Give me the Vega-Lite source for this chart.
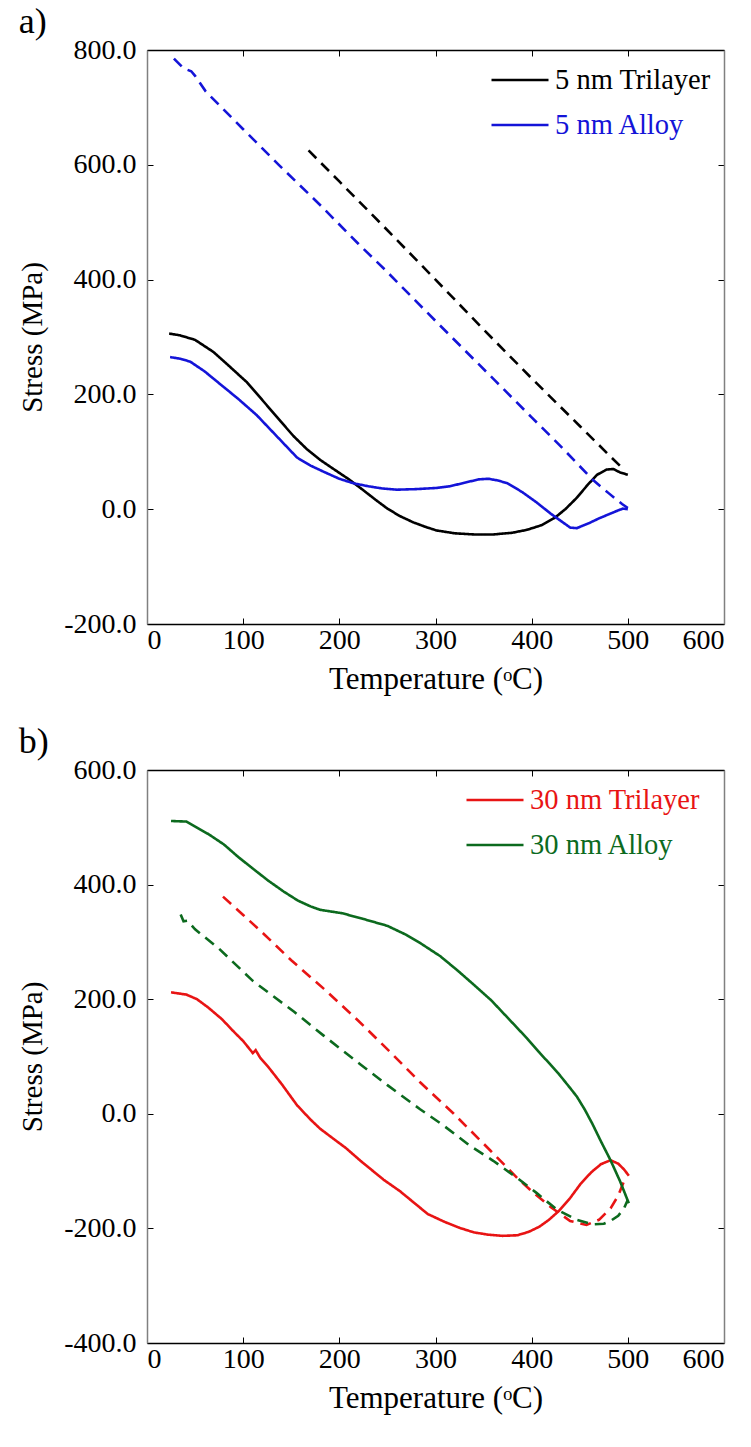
{
  "$schema": "https://vega.github.io/schema/vega-lite/v6.json",
  "background": "white",
  "padding": {"left": 18, "top": 4, "right": 8, "bottom": 5},
  "spacing": 30,
  "resolve": {"scale": {"color": "independent"}, "legend": {"color": "independent"}},
  "config": {
    "font": "Liberation Serif",
    "view": {"stroke": null},
    "axis": {"grid": false, "labelFont": "Liberation Serif", "titleFont": "Liberation Serif", "labelFontSize": 28, "titleFontSize": 29, "titleFontWeight": "normal", "labelColor": "black", "titleColor": "black", "tickColor": "black", "tickSize": -6, "tickWidth": 1, "domainWidth": 1.5},
    "axisX": {"domainColor": "black", "labelPadding": 8, "titlePadding": 10, "titleFontSize": 31},
    "axisY": {"domainColor": "#808080", "labelPadding": 17, "titlePadding": 16},
    "legend": {"orient": "none", "symbolType": "stroke", "symbolSize": 3249, "symbolStrokeWidth": 2.6, "labelFont": "Liberation Serif", "labelFontSize": 28.5, "labelOffset": 5, "rowPadding": 0, "labelLimit": 400, "padding": 0},
    "title": {"font": "Liberation Serif", "fontSize": 36, "fontWeight": "normal", "anchor": "start", "frame": "bounds", "color": "black", "offset": -5}
  },
  "datasets": {
    "a": [
      {"T": 23, "S": 306, "series": "5 nm Trilayer", "phase": "heating"},
      {"T": 34, "S": 303, "series": "5 nm Trilayer", "phase": "heating"},
      {"T": 50, "S": 295, "series": "5 nm Trilayer", "phase": "heating"},
      {"T": 69, "S": 274, "series": "5 nm Trilayer", "phase": "heating"},
      {"T": 85, "S": 250, "series": "5 nm Trilayer", "phase": "heating"},
      {"T": 104, "S": 221, "series": "5 nm Trilayer", "phase": "heating"},
      {"T": 120, "S": 190, "series": "5 nm Trilayer", "phase": "heating"},
      {"T": 139, "S": 153, "series": "5 nm Trilayer", "phase": "heating"},
      {"T": 152, "S": 128, "series": "5 nm Trilayer", "phase": "heating"},
      {"T": 166, "S": 105, "series": "5 nm Trilayer", "phase": "heating"},
      {"T": 180, "S": 86, "series": "5 nm Trilayer", "phase": "heating"},
      {"T": 194, "S": 70, "series": "5 nm Trilayer", "phase": "heating"},
      {"T": 210, "S": 52, "series": "5 nm Trilayer", "phase": "heating"},
      {"T": 225, "S": 33, "series": "5 nm Trilayer", "phase": "heating"},
      {"T": 238, "S": 16, "series": "5 nm Trilayer", "phase": "heating"},
      {"T": 250, "S": 1, "series": "5 nm Trilayer", "phase": "heating"},
      {"T": 263, "S": -12, "series": "5 nm Trilayer", "phase": "heating"},
      {"T": 277, "S": -23, "series": "5 nm Trilayer", "phase": "heating"},
      {"T": 290, "S": -31, "series": "5 nm Trilayer", "phase": "heating"},
      {"T": 301, "S": -37, "series": "5 nm Trilayer", "phase": "heating"},
      {"T": 320, "S": -42, "series": "5 nm Trilayer", "phase": "heating"},
      {"T": 340, "S": -44, "series": "5 nm Trilayer", "phase": "heating"},
      {"T": 360, "S": -44, "series": "5 nm Trilayer", "phase": "heating"},
      {"T": 380, "S": -41, "series": "5 nm Trilayer", "phase": "heating"},
      {"T": 395, "S": -36, "series": "5 nm Trilayer", "phase": "heating"},
      {"T": 410, "S": -28, "series": "5 nm Trilayer", "phase": "heating"},
      {"T": 424, "S": -15, "series": "5 nm Trilayer", "phase": "heating"},
      {"T": 435, "S": 0, "series": "5 nm Trilayer", "phase": "heating"},
      {"T": 447, "S": 20, "series": "5 nm Trilayer", "phase": "heating"},
      {"T": 458, "S": 42, "series": "5 nm Trilayer", "phase": "heating"},
      {"T": 468, "S": 60, "series": "5 nm Trilayer", "phase": "heating"},
      {"T": 478, "S": 69, "series": "5 nm Trilayer", "phase": "heating"},
      {"T": 485, "S": 70, "series": "5 nm Trilayer", "phase": "heating"},
      {"T": 492, "S": 64, "series": "5 nm Trilayer", "phase": "heating"},
      {"T": 500, "S": 60, "series": "5 nm Trilayer", "phase": "heating"},
      {"T": 168, "S": 625, "series": "5 nm Trilayer", "phase": "cooling"},
      {"T": 200, "S": 571, "series": "5 nm Trilayer", "phase": "cooling"},
      {"T": 250, "S": 486, "series": "5 nm Trilayer", "phase": "cooling"},
      {"T": 300, "S": 400, "series": "5 nm Trilayer", "phase": "cooling"},
      {"T": 350, "S": 313, "series": "5 nm Trilayer", "phase": "cooling"},
      {"T": 400, "S": 228, "series": "5 nm Trilayer", "phase": "cooling"},
      {"T": 450, "S": 145, "series": "5 nm Trilayer", "phase": "cooling"},
      {"T": 480, "S": 95, "series": "5 nm Trilayer", "phase": "cooling"},
      {"T": 494, "S": 72, "series": "5 nm Trilayer", "phase": "cooling"},
      {"T": 24, "S": 265, "series": "5 nm Alloy", "phase": "heating"},
      {"T": 35, "S": 262, "series": "5 nm Alloy", "phase": "heating"},
      {"T": 45, "S": 257, "series": "5 nm Alloy", "phase": "heating"},
      {"T": 60, "S": 240, "series": "5 nm Alloy", "phase": "heating"},
      {"T": 76, "S": 218, "series": "5 nm Alloy", "phase": "heating"},
      {"T": 95, "S": 192, "series": "5 nm Alloy", "phase": "heating"},
      {"T": 114, "S": 164, "series": "5 nm Alloy", "phase": "heating"},
      {"T": 135, "S": 127, "series": "5 nm Alloy", "phase": "heating"},
      {"T": 156, "S": 90, "series": "5 nm Alloy", "phase": "heating"},
      {"T": 170, "S": 76, "series": "5 nm Alloy", "phase": "heating"},
      {"T": 184, "S": 65, "series": "5 nm Alloy", "phase": "heating"},
      {"T": 200, "S": 53, "series": "5 nm Alloy", "phase": "heating"},
      {"T": 215, "S": 45, "series": "5 nm Alloy", "phase": "heating"},
      {"T": 230, "S": 40, "series": "5 nm Alloy", "phase": "heating"},
      {"T": 245, "S": 36, "series": "5 nm Alloy", "phase": "heating"},
      {"T": 260, "S": 34, "series": "5 nm Alloy", "phase": "heating"},
      {"T": 280, "S": 35, "series": "5 nm Alloy", "phase": "heating"},
      {"T": 301, "S": 37, "series": "5 nm Alloy", "phase": "heating"},
      {"T": 315, "S": 40, "series": "5 nm Alloy", "phase": "heating"},
      {"T": 330, "S": 46, "series": "5 nm Alloy", "phase": "heating"},
      {"T": 345, "S": 52, "series": "5 nm Alloy", "phase": "heating"},
      {"T": 355, "S": 53, "series": "5 nm Alloy", "phase": "heating"},
      {"T": 365, "S": 50, "series": "5 nm Alloy", "phase": "heating"},
      {"T": 375, "S": 45, "series": "5 nm Alloy", "phase": "heating"},
      {"T": 390, "S": 30, "series": "5 nm Alloy", "phase": "heating"},
      {"T": 405, "S": 12, "series": "5 nm Alloy", "phase": "heating"},
      {"T": 420, "S": -8, "series": "5 nm Alloy", "phase": "heating"},
      {"T": 430, "S": -20, "series": "5 nm Alloy", "phase": "heating"},
      {"T": 440, "S": -32, "series": "5 nm Alloy", "phase": "heating"},
      {"T": 447, "S": -33, "series": "5 nm Alloy", "phase": "heating"},
      {"T": 460, "S": -24, "series": "5 nm Alloy", "phase": "heating"},
      {"T": 470, "S": -16, "series": "5 nm Alloy", "phase": "heating"},
      {"T": 480, "S": -9, "series": "5 nm Alloy", "phase": "heating"},
      {"T": 490, "S": -2, "series": "5 nm Alloy", "phase": "heating"},
      {"T": 495, "S": 1, "series": "5 nm Alloy", "phase": "heating"},
      {"T": 500, "S": 0, "series": "5 nm Alloy", "phase": "heating"},
      {"T": 28, "S": 785, "series": "5 nm Alloy", "phase": "cooling"},
      {"T": 38, "S": 768, "series": "5 nm Alloy", "phase": "cooling"},
      {"T": 46, "S": 763, "series": "5 nm Alloy", "phase": "cooling"},
      {"T": 50, "S": 755, "series": "5 nm Alloy", "phase": "cooling"},
      {"T": 61, "S": 728, "series": "5 nm Alloy", "phase": "cooling"},
      {"T": 100, "S": 662, "series": "5 nm Alloy", "phase": "cooling"},
      {"T": 137, "S": 600, "series": "5 nm Alloy", "phase": "cooling"},
      {"T": 180, "S": 530, "series": "5 nm Alloy", "phase": "cooling"},
      {"T": 220, "S": 462, "series": "5 nm Alloy", "phase": "cooling"},
      {"T": 247, "S": 418, "series": "5 nm Alloy", "phase": "cooling"},
      {"T": 300, "S": 328, "series": "5 nm Alloy", "phase": "cooling"},
      {"T": 362, "S": 224, "series": "5 nm Alloy", "phase": "cooling"},
      {"T": 400, "S": 160, "series": "5 nm Alloy", "phase": "cooling"},
      {"T": 430, "S": 110, "series": "5 nm Alloy", "phase": "cooling"},
      {"T": 463, "S": 52, "series": "5 nm Alloy", "phase": "cooling"},
      {"T": 480, "S": 28, "series": "5 nm Alloy", "phase": "cooling"},
      {"T": 494, "S": 9, "series": "5 nm Alloy", "phase": "cooling"},
      {"T": 500, "S": 2, "series": "5 nm Alloy", "phase": "cooling"}
    ],
    "b": [
      {"T": 25, "S": 212, "series": "30 nm Trilayer", "phase": "heating"},
      {"T": 41, "S": 208, "series": "30 nm Trilayer", "phase": "heating"},
      {"T": 52, "S": 200, "series": "30 nm Trilayer", "phase": "heating"},
      {"T": 64, "S": 185, "series": "30 nm Trilayer", "phase": "heating"},
      {"T": 78, "S": 165, "series": "30 nm Trilayer", "phase": "heating"},
      {"T": 91, "S": 142, "series": "30 nm Trilayer", "phase": "heating"},
      {"T": 100, "S": 127, "series": "30 nm Trilayer", "phase": "heating"},
      {"T": 110, "S": 106, "series": "30 nm Trilayer", "phase": "heating"},
      {"T": 113, "S": 111, "series": "30 nm Trilayer", "phase": "heating"},
      {"T": 118, "S": 97, "series": "30 nm Trilayer", "phase": "heating"},
      {"T": 126, "S": 82, "series": "30 nm Trilayer", "phase": "heating"},
      {"T": 140, "S": 52, "series": "30 nm Trilayer", "phase": "heating"},
      {"T": 156, "S": 15, "series": "30 nm Trilayer", "phase": "heating"},
      {"T": 170, "S": -10, "series": "30 nm Trilayer", "phase": "heating"},
      {"T": 180, "S": -26, "series": "30 nm Trilayer", "phase": "heating"},
      {"T": 195, "S": -45, "series": "30 nm Trilayer", "phase": "heating"},
      {"T": 207, "S": -60, "series": "30 nm Trilayer", "phase": "heating"},
      {"T": 222, "S": -82, "series": "30 nm Trilayer", "phase": "heating"},
      {"T": 246, "S": -115, "series": "30 nm Trilayer", "phase": "heating"},
      {"T": 263, "S": -135, "series": "30 nm Trilayer", "phase": "heating"},
      {"T": 292, "S": -175, "series": "30 nm Trilayer", "phase": "heating"},
      {"T": 310, "S": -189, "series": "30 nm Trilayer", "phase": "heating"},
      {"T": 325, "S": -199, "series": "30 nm Trilayer", "phase": "heating"},
      {"T": 340, "S": -207, "series": "30 nm Trilayer", "phase": "heating"},
      {"T": 355, "S": -211, "series": "30 nm Trilayer", "phase": "heating"},
      {"T": 370, "S": -213, "series": "30 nm Trilayer", "phase": "heating"},
      {"T": 385, "S": -212, "series": "30 nm Trilayer", "phase": "heating"},
      {"T": 397, "S": -206, "series": "30 nm Trilayer", "phase": "heating"},
      {"T": 408, "S": -197, "series": "30 nm Trilayer", "phase": "heating"},
      {"T": 418, "S": -185, "series": "30 nm Trilayer", "phase": "heating"},
      {"T": 428, "S": -170, "series": "30 nm Trilayer", "phase": "heating"},
      {"T": 440, "S": -147, "series": "30 nm Trilayer", "phase": "heating"},
      {"T": 451, "S": -122, "series": "30 nm Trilayer", "phase": "heating"},
      {"T": 462, "S": -102, "series": "30 nm Trilayer", "phase": "heating"},
      {"T": 472, "S": -88, "series": "30 nm Trilayer", "phase": "heating"},
      {"T": 482, "S": -81, "series": "30 nm Trilayer", "phase": "heating"},
      {"T": 490, "S": -87, "series": "30 nm Trilayer", "phase": "heating"},
      {"T": 496, "S": -97, "series": "30 nm Trilayer", "phase": "heating"},
      {"T": 501, "S": -108, "series": "30 nm Trilayer", "phase": "heating"},
      {"T": 79, "S": 379, "series": "30 nm Trilayer", "phase": "cooling"},
      {"T": 100, "S": 347, "series": "30 nm Trilayer", "phase": "cooling"},
      {"T": 122, "S": 313, "series": "30 nm Trilayer", "phase": "cooling"},
      {"T": 150, "S": 268, "series": "30 nm Trilayer", "phase": "cooling"},
      {"T": 184, "S": 218, "series": "30 nm Trilayer", "phase": "cooling"},
      {"T": 220, "S": 162, "series": "30 nm Trilayer", "phase": "cooling"},
      {"T": 254, "S": 106, "series": "30 nm Trilayer", "phase": "cooling"},
      {"T": 284, "S": 55, "series": "30 nm Trilayer", "phase": "cooling"},
      {"T": 319, "S": 0, "series": "30 nm Trilayer", "phase": "cooling"},
      {"T": 357, "S": -64, "series": "30 nm Trilayer", "phase": "cooling"},
      {"T": 385, "S": -112, "series": "30 nm Trilayer", "phase": "cooling"},
      {"T": 402, "S": -138, "series": "30 nm Trilayer", "phase": "cooling"},
      {"T": 420, "S": -163, "series": "30 nm Trilayer", "phase": "cooling"},
      {"T": 440, "S": -187, "series": "30 nm Trilayer", "phase": "cooling"},
      {"T": 457, "S": -194, "series": "30 nm Trilayer", "phase": "cooling"},
      {"T": 470, "S": -185, "series": "30 nm Trilayer", "phase": "cooling"},
      {"T": 482, "S": -165, "series": "30 nm Trilayer", "phase": "cooling"},
      {"T": 490, "S": -143, "series": "30 nm Trilayer", "phase": "cooling"},
      {"T": 494, "S": -126, "series": "30 nm Trilayer", "phase": "cooling"},
      {"T": 498, "S": -110, "series": "30 nm Trilayer", "phase": "cooling"},
      {"T": 25, "S": 511, "series": "30 nm Alloy", "phase": "heating"},
      {"T": 41, "S": 510, "series": "30 nm Alloy", "phase": "heating"},
      {"T": 64, "S": 488, "series": "30 nm Alloy", "phase": "heating"},
      {"T": 80, "S": 470, "series": "30 nm Alloy", "phase": "heating"},
      {"T": 95, "S": 448, "series": "30 nm Alloy", "phase": "heating"},
      {"T": 110, "S": 428, "series": "30 nm Alloy", "phase": "heating"},
      {"T": 126, "S": 407, "series": "30 nm Alloy", "phase": "heating"},
      {"T": 142, "S": 388, "series": "30 nm Alloy", "phase": "heating"},
      {"T": 157, "S": 372, "series": "30 nm Alloy", "phase": "heating"},
      {"T": 170, "S": 362, "series": "30 nm Alloy", "phase": "heating"},
      {"T": 180, "S": 356, "series": "30 nm Alloy", "phase": "heating"},
      {"T": 203, "S": 350, "series": "30 nm Alloy", "phase": "heating"},
      {"T": 225, "S": 340, "series": "30 nm Alloy", "phase": "heating"},
      {"T": 250, "S": 328, "series": "30 nm Alloy", "phase": "heating"},
      {"T": 270, "S": 312, "series": "30 nm Alloy", "phase": "heating"},
      {"T": 285, "S": 297, "series": "30 nm Alloy", "phase": "heating"},
      {"T": 305, "S": 275, "series": "30 nm Alloy", "phase": "heating"},
      {"T": 323, "S": 250, "series": "30 nm Alloy", "phase": "heating"},
      {"T": 340, "S": 225, "series": "30 nm Alloy", "phase": "heating"},
      {"T": 358, "S": 198, "series": "30 nm Alloy", "phase": "heating"},
      {"T": 381, "S": 157, "series": "30 nm Alloy", "phase": "heating"},
      {"T": 395, "S": 132, "series": "30 nm Alloy", "phase": "heating"},
      {"T": 408, "S": 107, "series": "30 nm Alloy", "phase": "heating"},
      {"T": 420, "S": 85, "series": "30 nm Alloy", "phase": "heating"},
      {"T": 428, "S": 70, "series": "30 nm Alloy", "phase": "heating"},
      {"T": 440, "S": 45, "series": "30 nm Alloy", "phase": "heating"},
      {"T": 447, "S": 30, "series": "30 nm Alloy", "phase": "heating"},
      {"T": 455, "S": 8, "series": "30 nm Alloy", "phase": "heating"},
      {"T": 463, "S": -17, "series": "30 nm Alloy", "phase": "heating"},
      {"T": 472, "S": -48, "series": "30 nm Alloy", "phase": "heating"},
      {"T": 482, "S": -81, "series": "30 nm Alloy", "phase": "heating"},
      {"T": 492, "S": -118, "series": "30 nm Alloy", "phase": "heating"},
      {"T": 501, "S": -156, "series": "30 nm Alloy", "phase": "heating"},
      {"T": 35, "S": 348, "series": "30 nm Alloy", "phase": "cooling"},
      {"T": 38, "S": 336, "series": "30 nm Alloy", "phase": "cooling"},
      {"T": 42, "S": 337, "series": "30 nm Alloy", "phase": "cooling"},
      {"T": 50, "S": 322, "series": "30 nm Alloy", "phase": "cooling"},
      {"T": 75, "S": 288, "series": "30 nm Alloy", "phase": "cooling"},
      {"T": 110, "S": 232, "series": "30 nm Alloy", "phase": "cooling"},
      {"T": 153, "S": 178, "series": "30 nm Alloy", "phase": "cooling"},
      {"T": 184, "S": 136, "series": "30 nm Alloy", "phase": "cooling"},
      {"T": 222, "S": 86, "series": "30 nm Alloy", "phase": "cooling"},
      {"T": 250, "S": 50, "series": "30 nm Alloy", "phase": "cooling"},
      {"T": 284, "S": 8, "series": "30 nm Alloy", "phase": "cooling"},
      {"T": 308, "S": -20, "series": "30 nm Alloy", "phase": "cooling"},
      {"T": 336, "S": -56, "series": "30 nm Alloy", "phase": "cooling"},
      {"T": 360, "S": -82, "series": "30 nm Alloy", "phase": "cooling"},
      {"T": 385, "S": -112, "series": "30 nm Alloy", "phase": "cooling"},
      {"T": 405, "S": -138, "series": "30 nm Alloy", "phase": "cooling"},
      {"T": 426, "S": -167, "series": "30 nm Alloy", "phase": "cooling"},
      {"T": 447, "S": -185, "series": "30 nm Alloy", "phase": "cooling"},
      {"T": 464, "S": -193, "series": "30 nm Alloy", "phase": "cooling"},
      {"T": 475, "S": -192, "series": "30 nm Alloy", "phase": "cooling"},
      {"T": 482, "S": -187, "series": "30 nm Alloy", "phase": "cooling"},
      {"T": 490, "S": -178, "series": "30 nm Alloy", "phase": "cooling"},
      {"T": 496, "S": -165, "series": "30 nm Alloy", "phase": "cooling"},
      {"T": 500, "S": -150, "series": "30 nm Alloy", "phase": "cooling"}
    ]
  },
  "vconcat": [
    {
      "title": {"text": "a)"},
      "width": 577,
      "height": 574,
      "layer": [
        {
          "data": {"name": "a"},
          "mark": {"type": "line", "strokeWidth": 2.6},
          "encoding": {
            "x": {"field": "T", "type": "quantitative", "scale": {"domain": [0, 600], "nice": false}, "axis": {"values": [0, 100, 200, 300, 400, 500, 600], "labelFont": "Liberation Serif", "titleFont": "Liberation Serif", "title": "Temperature (ᵒC)"}},
            "y": {"field": "S", "type": "quantitative", "scale": {"domain": [-200, 800], "nice": false}, "axis": {"values": [-200, 0, 200, 400, 600, 800], "labelFont": "Liberation Serif", "titleFont": "Liberation Serif", "labelExpr": "datum.value < 0 ? '-' + format(-datum.value, '.1f') : format(datum.value, '.1f')", "title": "Stress (MPa)"}},
            "color": {"field": "series", "type": "nominal", "sort": null, "scale": {"domain": ["5 nm Trilayer", "5 nm Alloy"], "range": ["#000000", "#1414d8"]}, "legend": {"title": null, "legendX": 343, "legendY": 0, "labelFont": "Liberation Serif", "encode": {"labels": {"update": {"fill": {"signal": "datum.value === '5 nm Alloy' ? '#1414d8' : '#000000'"}}}}}},
            "strokeDash": {"field": "phase", "type": "nominal", "scale": {"domain": ["heating", "cooling"], "range": [[1, 0], [11, 7]]}, "legend": null}
          }
        },
        {
          "data": {"name": "a"},
          "mark": {"type": "point", "opacity": 0},
          "encoding": {
            "x": {"field": "T", "type": "quantitative", "scale": {"domain": [0, 600], "nice": false}, "axis": {"orient": "top", "values": [0, 100, 200, 300, 400, 500, 600], "labels": false, "title": null}},
            "y": {"field": "S", "type": "quantitative", "scale": {"domain": [-200, 800], "nice": false}, "axis": {"orient": "right", "values": [-200, 0, 200, 400, 600, 800], "labels": false, "title": null}}
          }
        }
      ],
      "resolve": {"axis": {"x": "independent", "y": "independent"}}
    },
    {
      "title": {"text": "b)"},
      "width": 577,
      "height": 573,
      "layer": [
        {
          "data": {"name": "b"},
          "mark": {"type": "line", "strokeWidth": 2.6},
          "encoding": {
            "x": {"field": "T", "type": "quantitative", "scale": {"domain": [0, 600], "nice": false}, "axis": {"values": [0, 100, 200, 300, 400, 500, 600], "labelFont": "Liberation Serif", "titleFont": "Liberation Serif", "title": "Temperature (ᵒC)"}},
            "y": {"field": "S", "type": "quantitative", "scale": {"domain": [-400, 600], "nice": false}, "axis": {"values": [-400, -200, 0, 200, 400, 600], "labelFont": "Liberation Serif", "titleFont": "Liberation Serif", "labelExpr": "datum.value < 0 ? '-' + format(-datum.value, '.1f') : format(datum.value, '.1f')", "title": "Stress (MPa)"}},
            "color": {"field": "series", "type": "nominal", "sort": null, "scale": {"domain": ["30 nm Trilayer", "30 nm Alloy"], "range": ["#e81414", "#0c6a1e"]}, "legend": {"title": null, "legendX": 318, "legendY": 0, "labelFont": "Liberation Serif", "encode": {"labels": {"update": {"fill": {"signal": "datum.value === '30 nm Alloy' ? '#0c6a1e' : '#e81414'"}}}}}},
            "strokeDash": {"field": "phase", "type": "nominal", "scale": {"domain": ["heating", "cooling"], "range": [[1, 0], [11, 7]]}, "legend": null}
          }
        },
        {
          "data": {"name": "b"},
          "mark": {"type": "point", "opacity": 0},
          "encoding": {
            "x": {"field": "T", "type": "quantitative", "scale": {"domain": [0, 600], "nice": false}, "axis": {"orient": "top", "values": [0, 100, 200, 300, 400, 500, 600], "labels": false, "title": null}},
            "y": {"field": "S", "type": "quantitative", "scale": {"domain": [-400, 600], "nice": false}, "axis": {"orient": "right", "values": [-400, -200, 0, 200, 400, 600], "labels": false, "title": null}}
          }
        }
      ],
      "resolve": {"axis": {"x": "independent", "y": "independent"}}
    }
  ]
}
